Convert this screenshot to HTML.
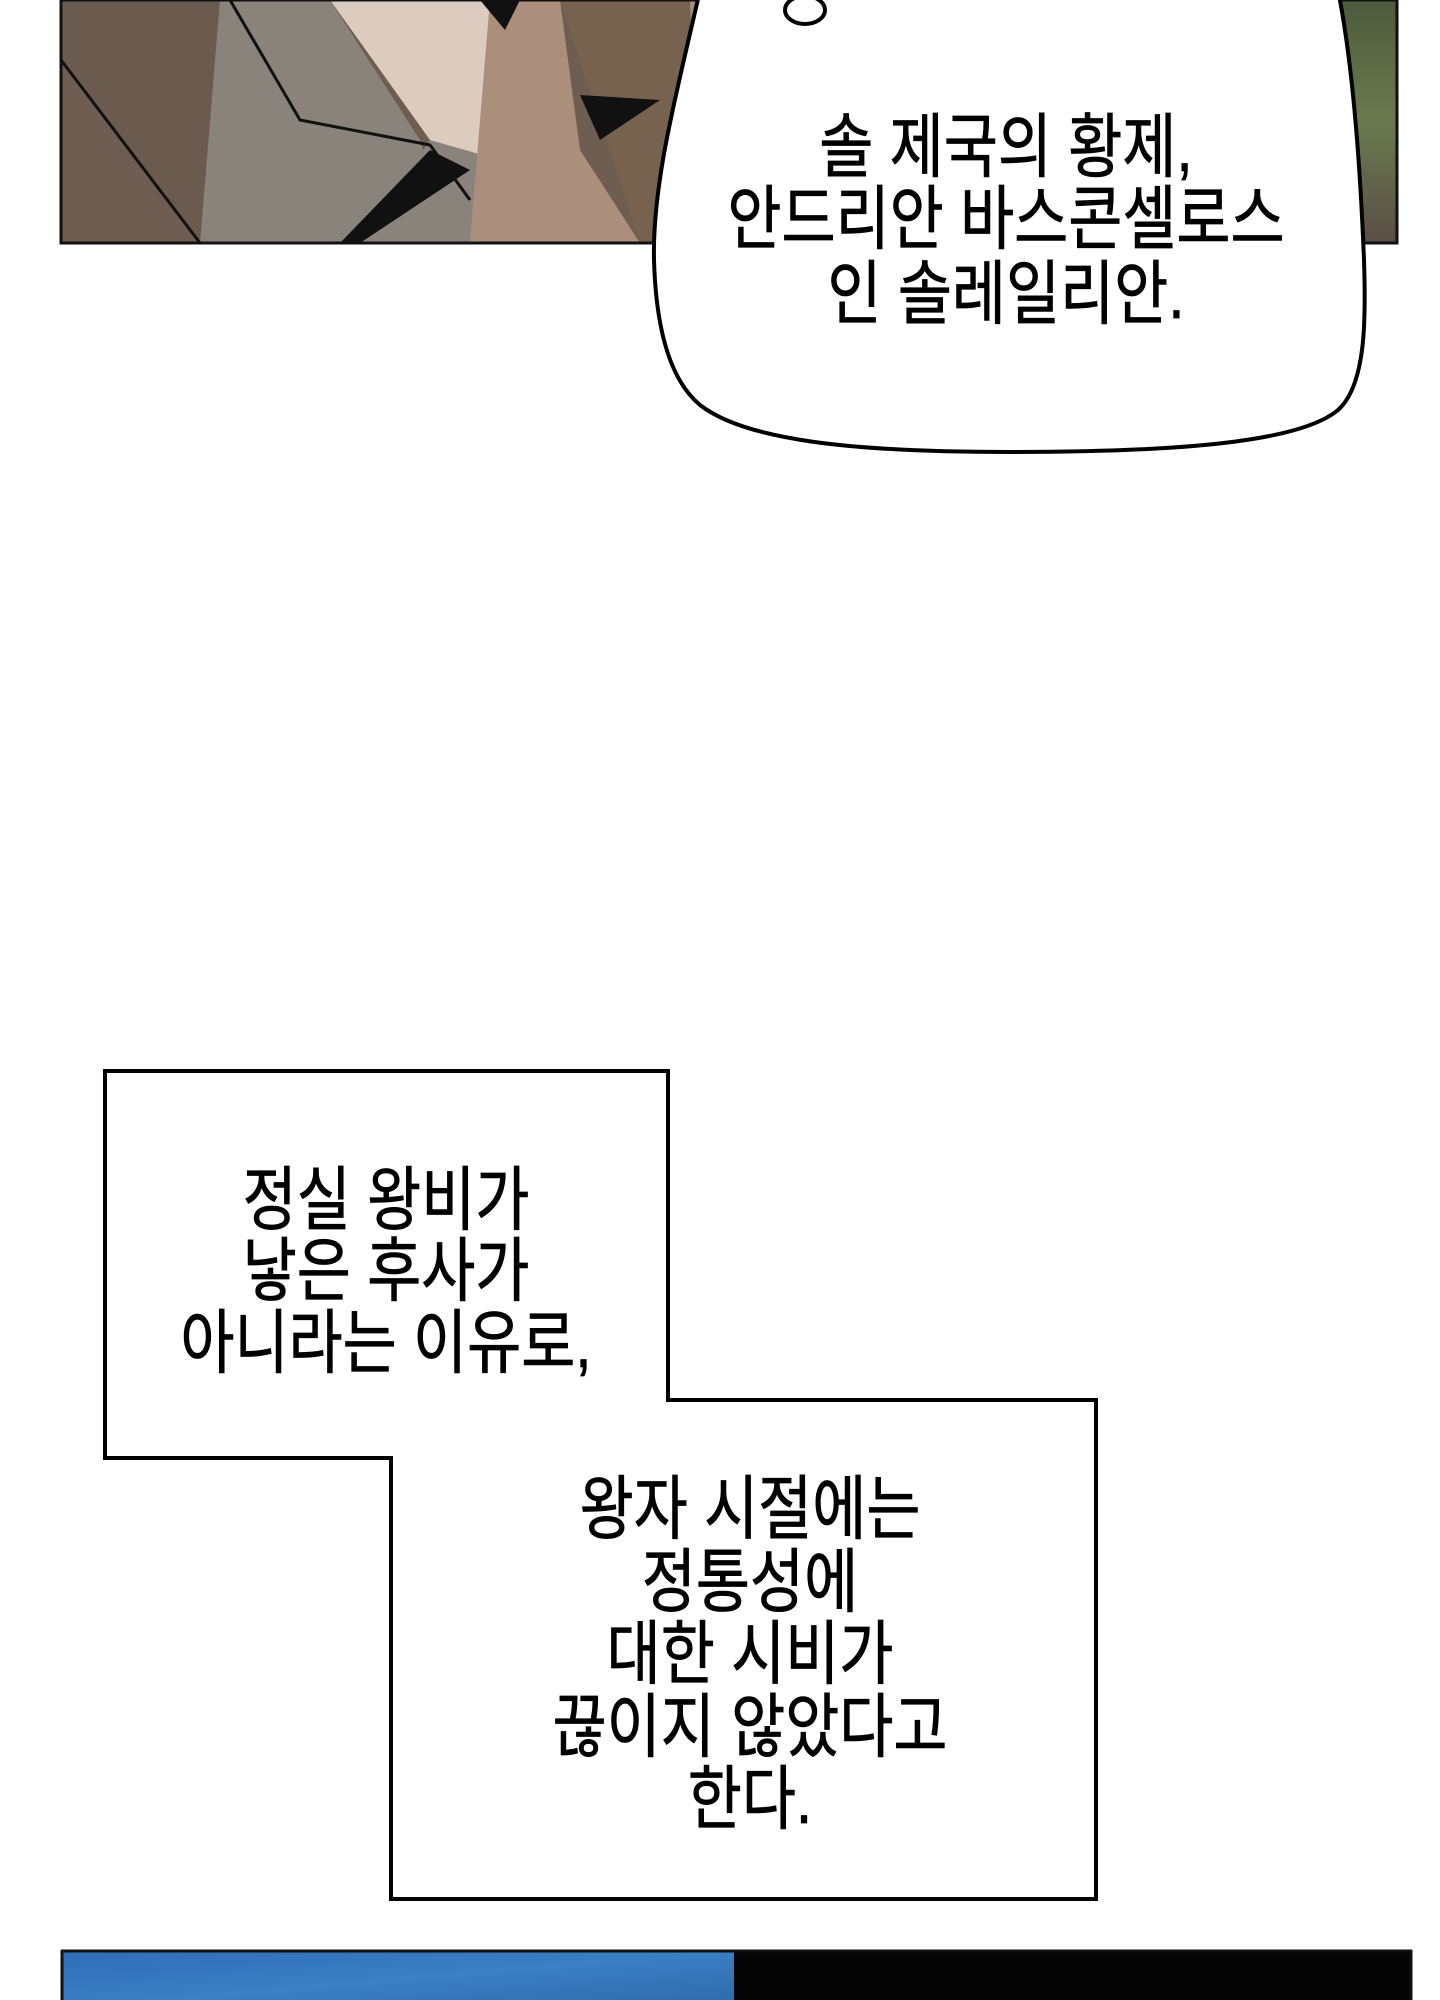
<!DOCTYPE html>
<html><head><meta charset="utf-8"><style>
html,body{margin:0;padding:0;background:#fff;width:1440px;height:2000px;overflow:hidden}
svg{display:block}
text{font-family:"Liberation Sans","Noto Sans CJK KR",sans-serif;font-size:70px;fill:#000;stroke:#000;stroke-width:0.8}
</style></head><body>
<svg width="1440" height="2000" viewBox="0 0 1440 2000" xmlns="http://www.w3.org/2000/svg">
<defs>
<linearGradient id="bl" x1="0" y1="0" x2="1" y2="1"><stop offset="0" stop-color="#2f6db8"/><stop offset="0.5" stop-color="#3a7fc4"/><stop offset="1" stop-color="#2e68a8"/></linearGradient>
<linearGradient id="gr" x1="0" y1="0" x2="0" y2="1"><stop offset="0" stop-color="#4d5a3c"/><stop offset="0.5" stop-color="#6a7a4e"/><stop offset="1" stop-color="#5a4e46"/></linearGradient>
</defs>
<!-- top panel -->
<rect x="61" y="0" width="1336" height="243" fill="#6e5d50"/>
<rect x="1300" y="0" width="97" height="243" fill="url(#gr)"/>
<polygon points="61,0 230,0 300,243 200,243 61,60" fill="#6b5a4e"/>
<polygon points="220,0 330,0 420,140 450,243 200,243" fill="#8a837c"/>
<polygon points="330,0 490,0 500,180 430,140" fill="#dccbbf"/>
<polygon points="430,140 500,160 520,243 360,243" fill="#8a837c"/>
<polygon points="490,0 560,0 580,150 640,243 470,243 480,120" fill="#ac8e7d"/>
<polygon points="560,0 700,0 720,243 640,243" fill="#76624f"/>
<polygon points="690,0 760,0 760,243 700,243" fill="#9d9380"/>
<polyline points="61,60 200,243" stroke="#111" stroke-width="3" fill="none"/>
<polyline points="230,0 300,120 430,145 470,200" stroke="#111" stroke-width="3" fill="none"/>
<polygon points="430,150 470,170 360,243 340,243" fill="#111"/>
<polygon points="580,95 660,100 600,140" fill="#111"/>
<polygon points="480,0 520,0 505,30" fill="#111"/>
<rect x="61" y="0" width="1336" height="243" fill="none" stroke="#111" stroke-width="3"/>
<!-- bubble -->
<path d="M700,-10 C680,80 652,180 654,260 C656,330 670,380 700,405 C745,440 850,452 1010,452 C1180,452 1300,442 1338,410 C1366,385 1366,320 1364,260 C1360,160 1352,60 1338,-10 Z" fill="#fff" stroke="#000" stroke-width="4"/>
<ellipse cx="805" cy="10" rx="20" ry="14" fill="#fff" stroke="#000" stroke-width="4"/>
<g text-anchor="middle">
<text transform="translate(1006,171) scale(0.84,1)">솔 제국의 황제,</text>
<text transform="translate(1006,243) scale(0.84,1)">안드리안 바스콘셀로스</text>
<text transform="translate(1006,318) scale(0.84,1)">인 솔레일리안.</text>
</g>
<!-- boxes -->
<polygon points="105,1071 668,1071 668,1400 1096,1400 1096,1899 391,1899 391,1458 105,1458" fill="#fff" stroke="#000" stroke-width="4" stroke-linejoin="miter"/>
<g text-anchor="middle">
<text transform="translate(386,1224) scale(0.84,1)">정실 왕비가</text>
<text transform="translate(386,1295) scale(0.84,1)">낳은 후사가</text>
<text transform="translate(386,1367) scale(0.84,1)">아니라는 이유로,</text>
<text transform="translate(750,1533) scale(0.84,1)">왕자 시절에는</text>
<text transform="translate(750,1606) scale(0.84,1)">정통성에</text>
<text transform="translate(750,1678) scale(0.84,1)">대한 시비가</text>
<text transform="translate(750,1751) scale(0.84,1)">끊이지 않았다고</text>
<text transform="translate(750,1823) scale(0.84,1)">한다.</text>
</g>
<!-- bottom panel -->
<rect x="61" y="1950" width="673" height="60" fill="url(#bl)"/>
<rect x="734" y="1950" width="678" height="60" fill="#050505"/>
<line x1="61" y1="1951" x2="1412" y2="1951" stroke="#111" stroke-width="3"/>
<line x1="62" y1="1950" x2="62" y2="2000" stroke="#111" stroke-width="3"/>
<line x1="1411" y1="1950" x2="1411" y2="2000" stroke="#111" stroke-width="3"/>
</svg>
</body></html>
